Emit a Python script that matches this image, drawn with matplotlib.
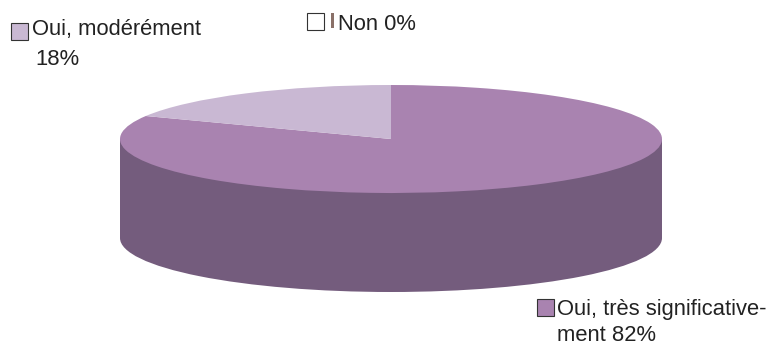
import matplotlib
matplotlib.use("Agg")
import matplotlib.pyplot as plt
from matplotlib.patches import Wedge, Ellipse, Rectangle
from matplotlib.transforms import Affine2D

# DADOS DO GRAFICO
rotulos = [["Oui, très significative-", "ment 82%"], ["Oui, modérément", "18%"], ["Non 0%"]]
valores = [82, 18, 0]
cores_topo = ["#a983b0", "#c9b8d3", "#ffffff"]
cor_lado = "#745c7d"

# GEOMETRIA DA PIZZA 3D (em pixels)
cx, cy = 391, 139
rx, ry = 271, 54
altura = 99

fig = plt.figure(figsize=(7.71, 3.47), dpi=100)
ax = fig.add_axes([0, 0, 1, 1])
ax.set_xlim(0, 771)
ax.set_ylim(347, 0)
ax.axis("off")

# LATERAL DO CILINDRO
ax.add_patch(Rectangle((cx - rx, cy), 2 * rx, altura, color=cor_lado, lw=0))
ax.add_patch(Ellipse((cx, cy + altura), 2 * rx, 2 * ry, color=cor_lado, lw=0))

# TOPO: fatias a partir de 12h no sentido horario
trans = Affine2D().scale(rx, -ry).translate(cx, cy) + ax.transData
total = sum(valores)
acum = 0
for v, cor in zip(valores, cores_topo):
    if v > 0:
        t2 = 90 - 360 * acum / total
        t1 = t2 - 360 * v / total
        ax.add_patch(Wedge((0, 0), 1, t1, t2, facecolor=cor, lw=0, transform=trans))
    acum += v

# LEGENDAS COM QUADRADINHOS
fonte = dict(fontsize=15.8, family="Liberation Sans", color="#222222")
# (quadrado x, quadrado y, texto x, baseline da 1a linha, entrelinha)
posicoes = [(537, 299, 557, 315, 26), (11, 23, 32, 35, 30), (307, 13, 338, 30, 30)]
for linhas, cor, (qx, qy, tx, ty, dy) in zip(rotulos, cores_topo, posicoes):
    ax.add_patch(Rectangle((qx, qy), 17, 17, facecolor=cor, edgecolor="#333333", lw=0.8))
    for i, linha in enumerate(linhas):
        dx = 3 if (i > 0 and qx < 100) else 0
        ax.text(tx + dx, ty + dy * i, linha, va="baseline", ha="left", **fonte)

# pequeno traco da fatia 0%
ax.add_patch(Rectangle((331, 13), 3, 15, facecolor="#8a7068", lw=0))

fig.savefig("out.png", dpi=100)
